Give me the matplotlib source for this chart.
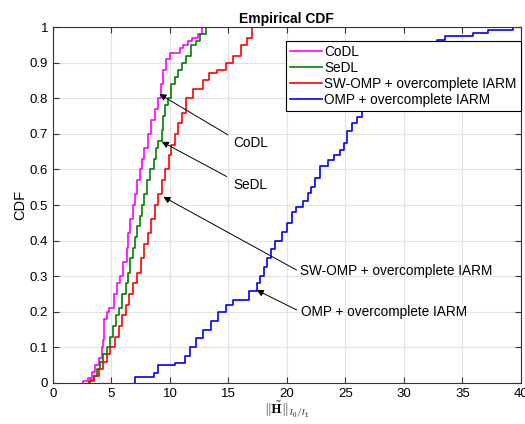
import matplotlib
matplotlib.use("Agg")
import matplotlib.pyplot as plt

plt.rcParams["font.family"] = ["Liberation Sans", "DejaVu Sans"]
plt.rcParams["mathtext.fontset"] = "cm"

# empirical CDF breakpoints (x, F(x) after the jump)
codl_x = [2.6, 3.0, 3.3, 3.6, 3.9, 4.2, 4.3, 4.35, 4.6, 4.8, 5.2, 5.5, 5.7, 6.0, 6.3, 6.4, 6.6,
          6.8, 7.0, 7.2, 7.4, 7.6, 7.8, 8.1, 8.4, 8.7, 9.0, 9.2, 9.4, 9.7, 10.0, 10.9, 11.1,
          11.5, 11.9, 12.4, 12.7]
codl_F = [0.005, 0.015, 0.03, 0.05, 0.07, 0.10, 0.12, 0.18, 0.20, 0.21, 0.25, 0.28, 0.30, 0.34,
          0.38, 0.42, 0.46, 0.50, 0.53, 0.57, 0.60, 0.63, 0.66, 0.70, 0.74, 0.77, 0.80, 0.84,
          0.88, 0.91, 0.927, 0.94, 0.95, 0.96, 0.97, 0.98, 1.0]

sedl_x = [3.2, 3.5, 3.8, 4.0, 4.3, 4.6, 4.9, 5.1, 5.4, 5.6, 5.9, 6.2, 6.4, 6.6, 6.8, 7.0, 7.2,
          7.4, 7.6, 7.8, 8.0, 8.3, 8.6, 8.8, 9.0, 9.3, 9.4, 9.6, 9.8, 10.1, 10.4, 10.7, 11.0,
          11.4, 11.8, 12.2, 12.6, 13.1]
sedl_F = [0.008, 0.02, 0.04, 0.06, 0.08, 0.10, 0.13, 0.16, 0.19, 0.21, 0.25, 0.28, 0.31, 0.35,
          0.38, 0.41, 0.44, 0.47, 0.50, 0.53, 0.57, 0.60, 0.63, 0.66, 0.68, 0.71, 0.75, 0.78,
          0.80, 0.84, 0.86, 0.88, 0.90, 0.92, 0.95, 0.96, 0.98, 1.0]

swomp_x = [3.1, 3.5, 3.9, 4.3, 4.6, 4.9, 5.3, 5.6, 5.9, 6.2, 6.5, 6.8, 7.2, 7.5, 7.8, 8.1, 8.4,
           8.7, 9.0, 9.3, 9.6, 9.9, 10.1, 10.4, 10.7, 11.0, 11.4, 12.0, 12.8, 13.3, 14.0,
           14.8, 15.4, 16.1, 16.6, 17.0]
swomp_F = [0.005, 0.02, 0.04, 0.06, 0.08, 0.10, 0.13, 0.16, 0.19, 0.22, 0.25, 0.28, 0.31, 0.35,
           0.39, 0.42, 0.46, 0.50, 0.53, 0.57, 0.60, 0.64, 0.67, 0.70, 0.73, 0.76, 0.80,
           0.826, 0.85, 0.87, 0.88, 0.90, 0.92, 0.95, 0.97, 1.0]

omp_x = [7.0, 8.6, 9.0, 10.4, 11.3, 11.7, 12.2, 12.8, 13.5, 14.1, 14.8, 15.4, 16.8, 17.4, 17.7,
         18.0, 18.3, 18.6, 19.0, 19.6, 20.0, 20.4, 20.8, 21.4, 21.8, 22.1, 22.4, 22.8, 23.5,
         24.0, 24.5, 24.9, 25.1, 25.6, 26.0, 26.4, 26.9, 27.4, 28.0, 28.8, 29.8, 31.0, 32.8,
         33.5, 35.9, 37.2, 39.3]
omp_F = [0.016, 0.029, 0.049, 0.056, 0.075, 0.10, 0.125, 0.15, 0.175, 0.20, 0.22, 0.233, 0.259,
         0.28, 0.30, 0.325, 0.35, 0.375, 0.40, 0.425, 0.45, 0.48, 0.495, 0.51, 0.533, 0.55,
         0.575, 0.61, 0.626, 0.64, 0.654, 0.675, 0.708, 0.73, 0.748, 0.775, 0.80, 0.83, 0.86,
         0.89, 0.92, 0.945, 0.963, 0.976, 0.984, 0.993, 1.0]

labels = ["CoDL", "SeDL", "SW-OMP + overcomplete IARM", "OMP + overcomplete IARM"]
colors = ["#ff00ff", "#008000", "#ff0000", "#0000ff"]

fig = plt.figure(figsize=(5.25, 4.24), dpi=100)
ax = fig.add_axes([0.101, 0.097, 0.891, 0.839])

for xs, Fs, lab, c in zip([codl_x, sedl_x, swomp_x, omp_x],
                          [codl_F, sedl_F, swomp_F, omp_F], labels, colors):
    x = [xs[0]] + xs + [40]
    F = [0.0] + Fs + [1.0]
    ax.step(x, F, where="post", color=c, lw=1.2, label=lab)

ax.set_xlim(0, 40)
ax.set_ylim(0, 1)
ax.set_xticks(range(0, 41, 5))
ax.set_yticks([i / 10 for i in range(11)])
ax.set_yticklabels(["0"] + ["%.1f" % (i / 10) for i in range(1, 10)] + ["1"])
ax.grid(True, color="#e3e3e3", lw=0.8)
ax.set_axisbelow(True)
ax.tick_params(direction="in", top=True, right=True, labelsize=9.5, length=4, color="#333333")
for s in ax.spines.values():
    s.set_color("#333333")
    s.set_linewidth(0.8)

ax.set_title("Empirical CDF", fontsize=10, fontweight="bold", pad=3)
ax.set_ylabel("CDF", fontsize=10.5, labelpad=2)
ax.set_xlabel(r"$\|\tilde{\mathbf{H}}\|_{l_0/l_1}$", fontsize=10, labelpad=0)

leg = ax.legend(loc="upper right", bbox_to_anchor=(1.0, 0.962), fontsize=9.8, frameon=True,
                fancybox=False, edgecolor="black", framealpha=1, borderpad=0.3,
                labelspacing=0.15, handlelength=2.3, handletextpad=0.2, borderaxespad=0)
leg.get_frame().set_linewidth(0.8)
leg.set_zorder(5)

# text arrows
notes = [("CoDL", (9.09, 0.812), (14.96, 0.697), (15.4, 0.674)),
         ("SeDL", (9.29, 0.678), (14.85, 0.58), (15.4, 0.556)),
         ("SW-OMP + overcomplete IARM", (9.43, 0.523), (20.83, 0.317), (21.1, 0.315)),
         ("OMP + overcomplete IARM", (17.41, 0.261), (20.83, 0.205), (21.2, 0.198))]
for txt, head, tail, pos in notes:
    ax.annotate("", xy=head, xytext=tail,
                arrowprops=dict(arrowstyle="-|>", color="black", lw=0.7,
                                mutation_scale=10, shrinkA=0, shrinkB=0))
    ax.text(pos[0], pos[1], txt, fontsize=9.8, ha="left", va="center")

fig.savefig("out.png", dpi=100)
